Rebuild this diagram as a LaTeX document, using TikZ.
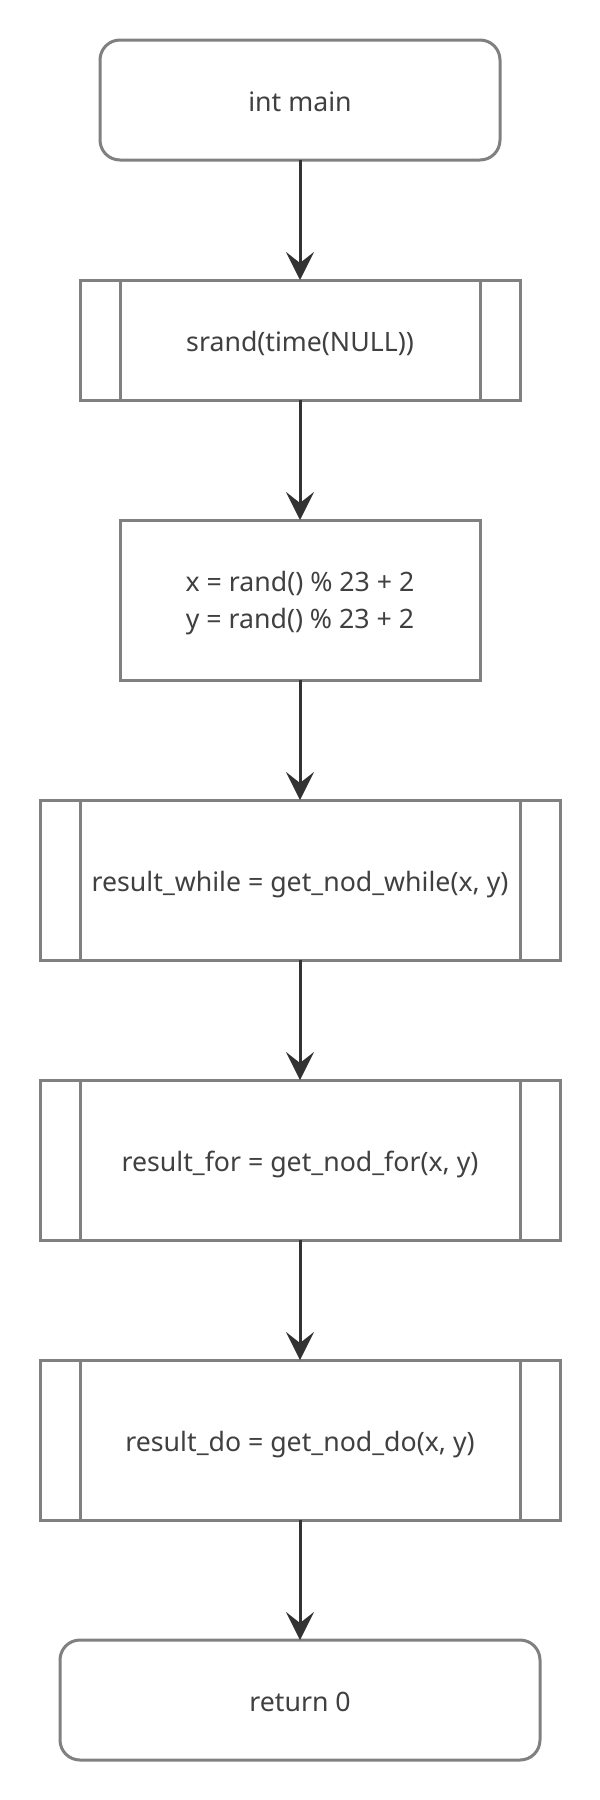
\documentclass[tikz,border=0pt]{standalone}
\usepackage{fontspec}
\setmainfont{Noto Sans}
\usetikzlibrary{arrows.meta}
\definecolor{kuang}{RGB}{128,128,128}
\definecolor{jiantou}{RGB}{51,51,51}
\definecolor{zi}{RGB}{64,64,64}

\begin{document}
\begin{tikzpicture}[x=1pt,y=-1pt,
        kuangti/.style={draw=kuang,line width=3pt,outer sep=0pt,text=zi,align=center,
            text height=23.4pt,text depth=0pt,font=\fontsize{26.7}{37}\selectfont},
        duan/.style={kuangti,rounded corners=20pt,minimum height=120pt},
        chuli/.style={kuangti,minimum height=160pt},
        zihanshu/.style={kuangti,
            path picture={\draw[kuang,line width=3pt]
                ([xshift=40pt]path picture bounding box.north west)--([xshift=40pt]path picture bounding box.south west)
                ([xshift=-40pt]path picture bounding box.north east)--([xshift=-40pt]path picture bounding box.south east);}},
        liu/.style={draw=jiantou,line width=3pt,-{Stealth[length=28pt,width=28pt,inset=11pt]}}]
        \useasboundingbox (0,0) rectangle (600,1800);
        %开始,结束
            \node [duan,minimum width=400pt] (kaishi) at (300,100) {int main};
            \node [duan,minimum width=480pt] (jieshu) at (300,1700) {return 0};
        %子函数,赋值
            \node [zihanshu,minimum width=440pt,minimum height=120pt] (suiji) at (300,340) {srand(time(NULL))};
            \node [chuli,minimum width=360pt,text height=56.6pt] (fuzhi) at (300,600) {x = rand() \% 23 + 2\\y = rand() \% 23 + 2};
            \node [zihanshu,minimum width=520pt,minimum height=160pt] (whilehs) at (300,880) {result\_while = get\_nod\_while(x, y)};
            \node [zihanshu,minimum width=520pt,minimum height=160pt] (forhs) at (300,1160) {result\_for = get\_nod\_for(x, y)};
            \node [zihanshu,minimum width=520pt,minimum height=160pt] (dohs) at (300,1440) {result\_do = get\_nod\_do(x, y)};
        %箭头
            \draw [liu] (kaishi) -- (suiji);
            \draw [liu] (suiji) -- (fuzhi);
            \draw [liu] (fuzhi) -- (whilehs);
            \draw [liu] (whilehs) -- (forhs);
            \draw [liu] (forhs) -- (dohs);
            \draw [liu] (dohs) -- (jieshu);
    \end{tikzpicture}
\end{document}
